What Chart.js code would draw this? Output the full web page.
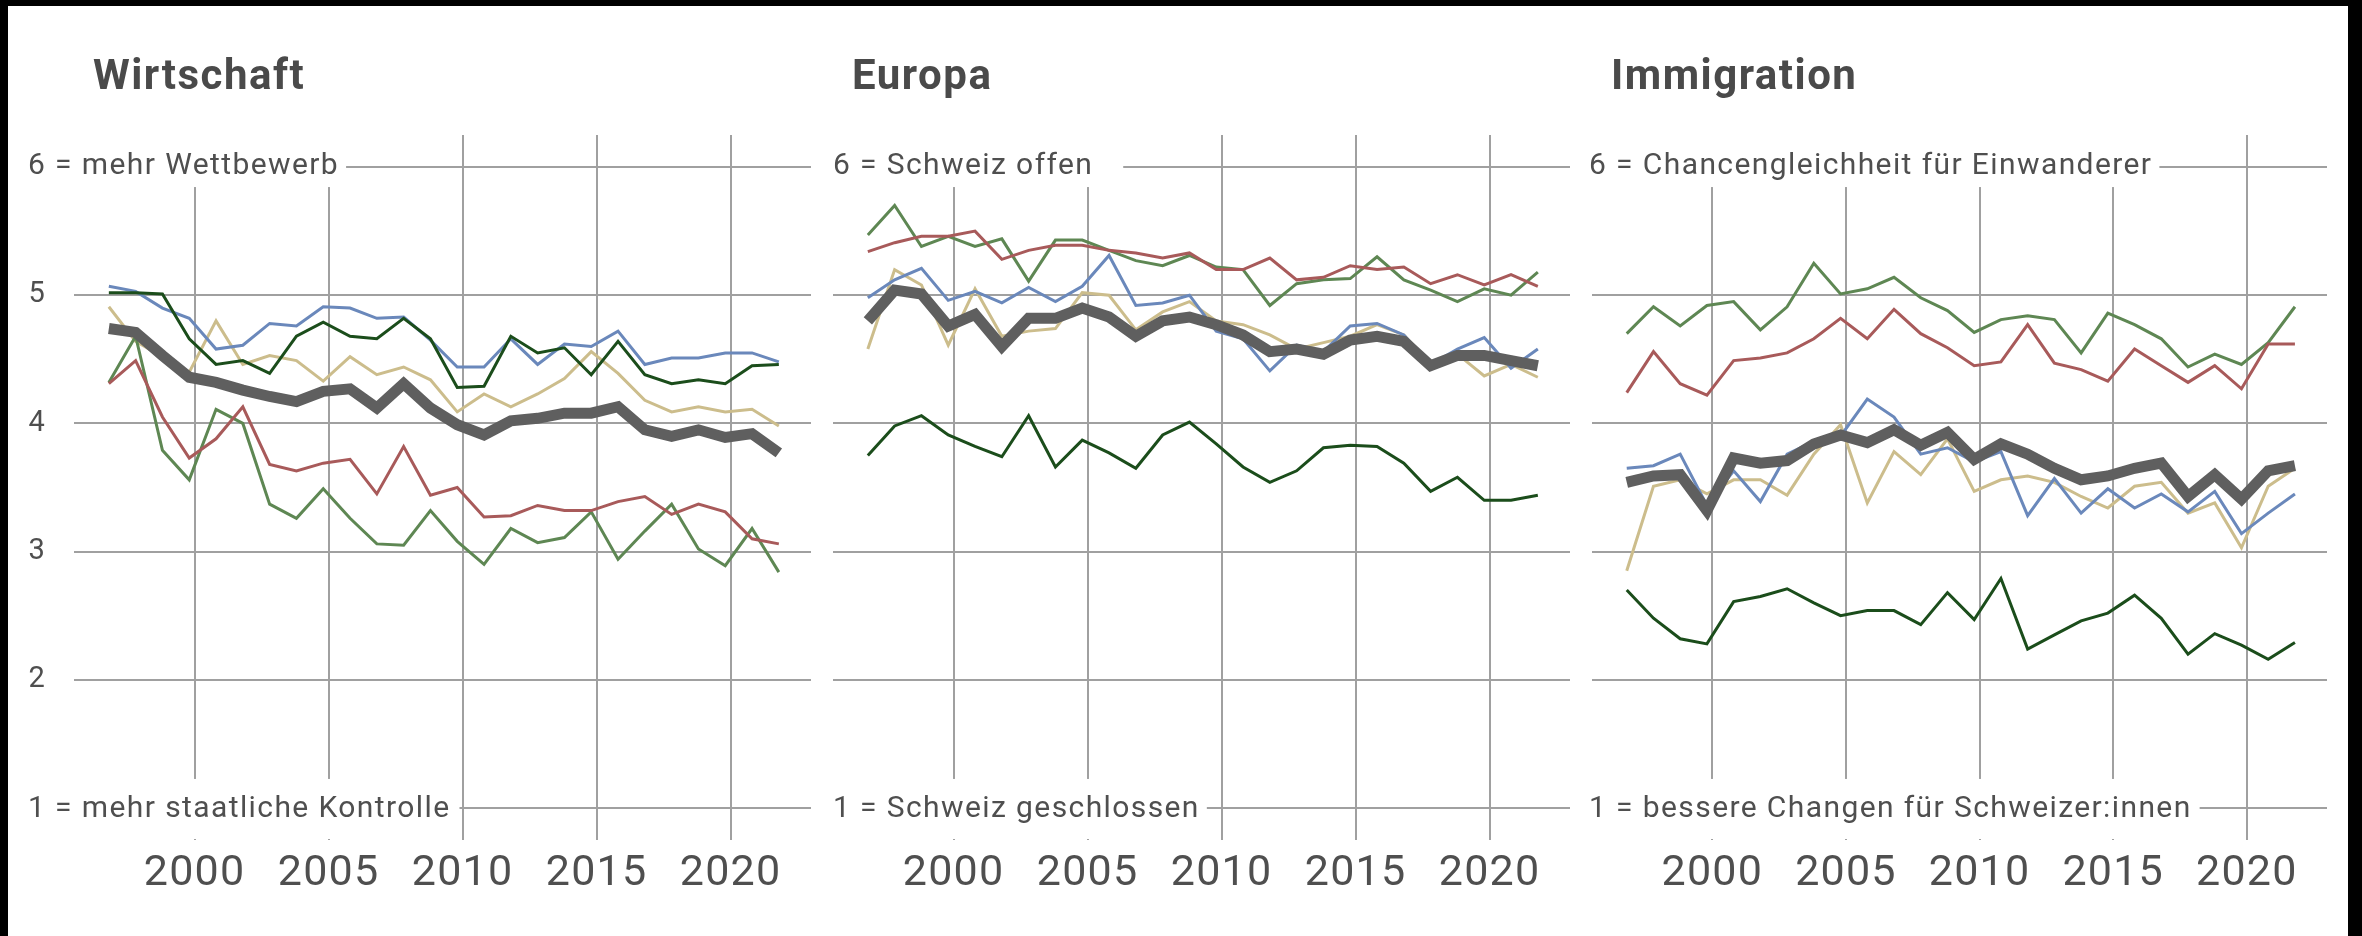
<!DOCTYPE html>
<html>
<head>
<meta charset="utf-8">
<script src="https://cdn.jsdelivr.net/npm/chart.js@4.4.1/dist/chart.umd.min.js"></script>
<style>
  html, body { margin: 0; padding: 0; background: #000; width: 2362px; height: 936px; overflow: hidden; }
  #frame { position: absolute; left: 8px; top: 6px; width: 2340px; height: 930px; background: #fff; }
  canvas { position: absolute; left: 0; top: 0; }
</style>
</head>
<body>
<div id="frame"></div>
<canvas id="c1" width="2362" height="936"></canvas>
<canvas id="c2" width="2362" height="936"></canvas>
<canvas id="c3" width="2362" height="936"></canvas>
<script>
// ---------------- DATA ----------------
const years = [1997,1998,1999,2000,2001,2002,2003,2004,2005,2006,2007,2008,2009,
               2010,2011,2012,2013,2014,2015,2016,2017,2018,2019,2020,2021,2022];
const xTickYears = [2000, 2005, 2010, 2015, 2020];
const yTicks = [1, 2, 3, 4, 5, 6];
const scaleEnds = [6, 1];

const panelTitles = ['Wirtschaft', 'Europa', 'Immigration'];
const topLabels = ['6 = mehr Wettbewerb', '6 = Schweiz offen', '6 = Chancengleichheit für Einwanderer'];
const bottomLabels = ['1 = mehr staatliche Kontrolle', '1 = Schweiz geschlossen', '1 = bessere Changen für Schweizer:innen'];

// Wirtschaft
const wirtschaftTotal = [4.74,4.71,4.53,4.36,4.32,4.26,4.21,4.17,4.25,4.27,4.12,4.31,4.12,3.99,3.91,4.02,4.04,4.08,4.08,4.13,3.95,3.90,3.95,3.89,3.92,3.77];
const wirtschaftDunkelgruen = [5.02,5.02,5.01,4.66,4.46,4.49,4.39,4.68,4.79,4.68,4.66,4.82,4.66,4.28,4.29,4.68,4.55,4.59,4.38,4.64,4.38,4.31,4.34,4.31,4.45,4.46];
const wirtschaftRot = [4.31,4.49,4.05,3.73,3.88,4.13,3.68,3.63,3.69,3.72,3.45,3.82,3.44,3.50,3.27,3.28,3.36,3.32,3.32,3.39,3.43,3.29,3.37,3.31,3.10,3.06];
const wirtschaftGruen = [4.32,4.68,3.79,3.56,4.11,4.00,3.37,3.26,3.49,3.26,3.06,3.05,3.32,3.08,2.90,3.18,3.07,3.11,3.31,2.94,3.16,3.37,3.02,2.89,3.18,2.84];
const wirtschaftBlau = [5.07,5.03,4.90,4.82,4.58,4.61,4.78,4.76,4.91,4.90,4.82,4.83,4.65,4.44,4.44,4.66,4.46,4.62,4.60,4.72,4.46,4.51,4.51,4.55,4.55,4.48];
const wirtschaftBeige = [4.91,4.64,4.52,4.40,4.80,4.46,4.53,4.49,4.33,4.52,4.38,4.44,4.34,4.09,4.23,4.13,4.23,4.35,4.56,4.39,4.18,4.09,4.13,4.09,4.11,3.98];

// Europa
const europaTotal = [4.80,5.04,5.01,4.76,4.85,4.60,4.82,4.82,4.90,4.83,4.68,4.80,4.83,4.77,4.69,4.56,4.58,4.54,4.65,4.68,4.64,4.45,4.53,4.53,4.49,4.45];
const europaDunkelgruen = [3.75,3.98,4.06,3.91,3.82,3.74,4.06,3.66,3.87,3.77,3.65,3.91,4.01,3.84,3.66,3.54,3.63,3.81,3.83,3.82,3.69,3.47,3.58,3.40,3.40,3.44];
const europaRot = [5.34,5.41,5.46,5.46,5.50,5.28,5.35,5.39,5.39,5.35,5.33,5.29,5.33,5.20,5.20,5.29,5.12,5.14,5.23,5.20,5.22,5.09,5.16,5.08,5.16,5.07];
const europaGruen = [5.47,5.70,5.38,5.46,5.38,5.44,5.11,5.43,5.43,5.35,5.27,5.23,5.31,5.22,5.20,4.92,5.09,5.12,5.13,5.30,5.12,5.04,4.95,5.05,5.00,5.18];
const europaBlau = [4.98,5.12,5.21,4.96,5.03,4.94,5.06,4.95,5.07,5.31,4.92,4.94,5.00,4.72,4.66,4.41,4.61,4.56,4.76,4.78,4.69,4.46,4.58,4.67,4.43,4.58];
const europaBeige = [4.58,5.20,5.08,4.61,5.05,4.68,4.72,4.74,5.02,5.00,4.73,4.87,4.95,4.80,4.77,4.69,4.58,4.63,4.68,4.77,4.69,4.47,4.54,4.37,4.46,4.36];

// Immigration
const immigrationTotal = [3.54,3.59,3.60,3.32,3.73,3.69,3.71,3.84,3.91,3.85,3.95,3.83,3.93,3.72,3.84,3.76,3.65,3.56,3.59,3.65,3.69,3.43,3.60,3.41,3.63,3.67];
const immigrationDunkelgruen = [2.70,2.48,2.32,2.28,2.61,2.65,2.71,2.60,2.50,2.54,2.54,2.43,2.68,2.47,2.79,2.24,2.35,2.46,2.52,2.66,2.48,2.20,2.36,2.27,2.16,2.29];
const immigrationRot = [4.24,4.56,4.31,4.22,4.49,4.51,4.55,4.66,4.82,4.66,4.89,4.70,4.59,4.45,4.48,4.77,4.47,4.42,4.33,4.58,4.45,4.32,4.45,4.27,4.62,4.62];
const immigrationGruen = [4.70,4.91,4.76,4.92,4.95,4.73,4.91,5.25,5.01,5.05,5.14,4.98,4.88,4.71,4.81,4.84,4.81,4.55,4.86,4.77,4.66,4.44,4.54,4.46,4.63,4.91];
const immigrationBlau = [3.65,3.67,3.76,3.36,3.63,3.39,3.76,3.86,3.90,4.19,4.05,3.76,3.81,3.70,3.78,3.28,3.57,3.30,3.49,3.34,3.45,3.31,3.47,3.14,3.30,3.45];
const immigrationBeige = [2.85,3.51,3.56,3.45,3.56,3.56,3.44,3.76,3.99,3.38,3.78,3.60,3.88,3.47,3.56,3.59,3.54,3.43,3.34,3.51,3.54,3.30,3.38,3.03,3.51,3.65];

// ---------------- STYLE ----------------
const pointShift = -0.2;          // survey points sit slightly before the year grid line
const gridColor = '#a0a0a0';
const textColor = '#4f4f4f';
const seriesStyles = [
  { name: 'Total',        color: '#5f5f5f', width: 11 },
  { name: 'Dunkelgrün',   color: '#1b4d1b', width: 3 },
  { name: 'Rot',          color: '#a85a5a', width: 3 },
  { name: 'Grün',         color: '#5e8753', width: 3 },
  { name: 'Blau',         color: '#6a88bb', width: 3 },
  { name: 'Beige',        color: '#ccbd8c', width: 3 }
];

const panels = [
  { id: 'c1', series: [wirtschaftTotal, wirtschaftDunkelgruen, wirtschaftRot, wirtschaftGruen, wirtschaftBlau, wirtschaftBeige],
    padLeft: 0, padRight: 1551, yAxisWidth: 74, showYTicks: true, labelOffset: -46, topGap: 7, bottomGap: 9 },
  { id: 'c2', series: [europaTotal, europaDunkelgruen, europaRot, europaGruen, europaBlau, europaBeige],
    padLeft: 833, padRight: 792, yAxisWidth: 0, showYTicks: false, labelOffset: 0, topGap: 30, bottomGap: 7 },
  { id: 'c3', series: [immigrationTotal, immigrationDunkelgruen, immigrationRot, immigrationGruen, immigrationBlau, immigrationBeige],
    padLeft: 1592, padRight: 35, yAxisWidth: 0, showYTicks: false, labelOffset: -3, topGap: 7, bottomGap: 8 }
];

const panelDecor = {
  id: 'panelDecor',
  beforeDraw(chart) {
    chart.ctx.letterSpacing = '1.2px';
  },
  beforeDatasetsDraw(chart, args, o) {
    const { ctx, chartArea: ca, scales: { y } } = chart;
    ctx.save();
    // title
    ctx.letterSpacing = '1.5px';
    ctx.font = 'bold 42px Roboto';
    ctx.fillStyle = '#4a4a4a';
    ctx.textAlign = 'left';
    ctx.textBaseline = 'alphabetic';
    ctx.fillText(o.title, ca.left + 19, ca.top - 46);

    // end labels
    ctx.letterSpacing = '1.4px';
    ctx.font = '30px Roboto';
    const x0 = ca.left + o.labelOffset;
    const yTop = y.getPixelForValue(scaleEnds[0]);
    const yBot = y.getPixelForValue(scaleEnds[1]);
    const wTop = ctx.measureText(o.topText).width;
    const wBot = ctx.measureText(o.bottomText).width;
    ctx.fillStyle = '#fff';
    ctx.fillRect(x0 - 4, ca.top - 2, wTop + 4 + o.topGap, yTop + 20 - (ca.top - 2));
    ctx.fillRect(x0 - 4, yBot - 29, wBot + 4 + o.bottomGap, ca.bottom - 1 - (yBot - 29));
    ctx.fillStyle = textColor;
    ctx.fillText(o.topText, x0, yTop + 6.5);
    ctx.fillText(o.bottomText, x0, yBot + 9.5);
    ctx.restore();
  }
};

function makeChart(p, idx) {
  const datasets = p.series.map((vals, si) => ({
    label: seriesStyles[si].name,
    data: vals.map((v, i) => ({ x: years[i] + pointShift, y: v })),
    borderColor: seriesStyles[si].color,
    borderWidth: seriesStyles[si].width,
    pointRadius: 0,
    tension: 0,
    fill: false,
    borderJoinStyle: 'miter',
    borderCapStyle: 'butt'
  }));
  return new Chart(document.getElementById(p.id), {
    type: 'line',
    data: { datasets },
    options: {
      responsive: false,
      animation: false,
      devicePixelRatio: 1,
      events: [],
      layout: { padding: { left: p.padLeft, right: p.padRight, top: 135, bottom: 0 } },
      plugins: {
        legend: { display: false },
        tooltip: { enabled: false },
        panelDecor: { title: panelTitles[idx], topText: topLabels[idx], bottomText: bottomLabels[idx],
                      labelOffset: p.labelOffset, topGap: p.topGap, bottomGap: p.bottomGap }
      },
      scales: {
        x: {
          type: 'linear', min: 1995.5, max: 2023,
          afterBuildTicks: s => { s.ticks = xTickYears.map(v => ({ value: v })); },
          afterFit: s => { s.height = 96; },
          grid: { color: gridColor, lineWidth: 2, drawTicks: false },
          border: { display: false },
          ticks: { font: { family: 'Roboto', size: 43 }, color: textColor, padding: 8,
                   maxRotation: 0, autoSkip: false, callback: v => String(v) }
        },
        y: {
          type: 'linear', min: 0.75, max: 6.25,
          afterBuildTicks: s => { s.ticks = yTicks.map(v => ({ value: v })); },
          afterFit: s => { s.width = p.yAxisWidth; },
          grid: { color: gridColor, lineWidth: 2, drawTicks: false },
          border: { display: false },
          ticks: { display: p.showYTicks, font: { family: 'Roboto', size: 29 }, color: textColor, padding: 28,
                   callback: v => (scaleEnds.includes(v) ? '' : String(v)) }
        }
      }
    },
    plugins: [panelDecor]
  });
}

function drawAll() { panels.forEach(makeChart); }
if (document.fonts && document.fonts.load) {
  Promise.all([document.fonts.load('bold 42px Roboto'), document.fonts.load('30px Roboto')])
    .then(drawAll, drawAll);
} else { drawAll(); }
</script>
</body>
</html>
